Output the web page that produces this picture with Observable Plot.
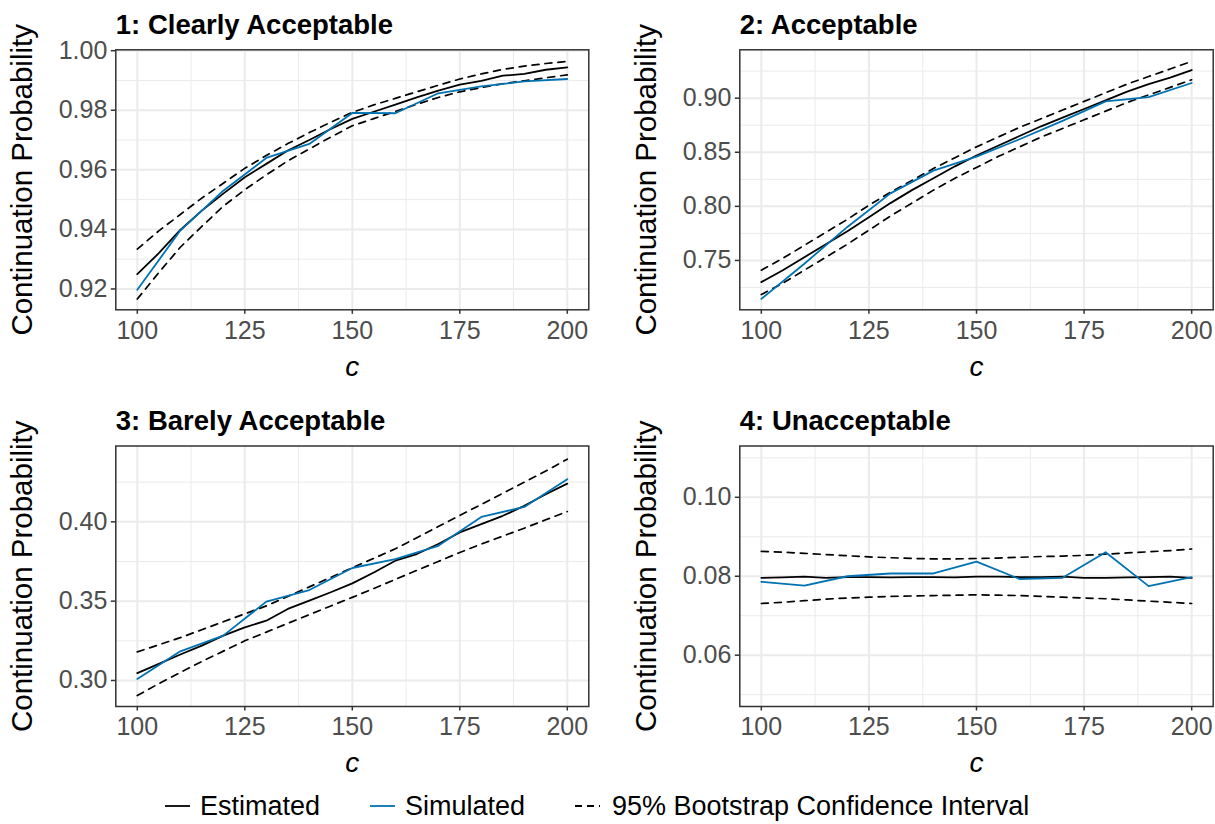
<!DOCTYPE html>
<html><head><meta charset="utf-8">
<script src="https://cdn.jsdelivr.net/npm/d3@7"></script>
<script src="https://cdn.jsdelivr.net/npm/@observablehq/plot@0.6"></script>
<style>
body{margin:0;background:#fff;font-family:"Liberation Sans",Arial,Helvetica,sans-serif;}
#wrap{position:relative;width:1215px;height:824px;overflow:hidden;background:#fff;}
.panel{position:absolute;}
.leg{position:absolute;font-size:27px;line-height:27px;color:#000;white-space:nowrap;}
.key{position:absolute;}
</style></head><body><div id="wrap"></div>
<script>
// x values
const cFine = [100,105,110,115,120,125,130,135,140,145,150,155,160,165,170,175,180,185,190,195,200];
const cSim = [100,110,120,130,140,150,160,170,180,190,200];
const xTicks = [100,125,150,175,200];
const xMinor = [112.5,137.5,162.5,187.5];

const titles = ["1: Clearly Acceptable","2: Acceptable","3: Barely Acceptable","4: Unacceptable"];
const yLabel = "Continuation Probability";
const xLabel = "c";
const legendLabels = ["Estimated","Simulated","95% Bootstrap Confidence Interval"];

// Panel 1
const est1 = [0.925,0.932,0.9398,0.9463,0.952,0.9575,0.962,0.9665,0.970,0.9737,0.9771,0.9795,0.9819,0.9843,0.9866,0.9886,0.9899,0.9916,0.9922,0.9936,0.9944];
const hi1 = [0.9334,0.9395,0.945,0.9505,0.9555,0.9605,0.9648,0.9688,0.9725,0.976,0.9793,0.9818,0.984,0.9862,0.9884,0.9905,0.9922,0.9937,0.9948,0.9957,0.9964];
const lo1 = [0.9166,0.9255,0.934,0.941,0.9478,0.9533,0.9583,0.963,0.967,0.971,0.9748,0.9772,0.9796,0.982,0.9843,0.9862,0.9876,0.9889,0.9899,0.9909,0.9919];
const sim1 = [0.9197,0.9396,0.953,0.964,0.9687,0.9791,0.979,0.9857,0.988,0.9897,0.9905];
const yTicks1 = [0.92,0.94,0.96,0.98,1.00];
const yMinor1 = [0.93,0.95,0.97,0.99];

// Panel 2
const est2 = [0.730,0.741,0.753,0.765,0.777,0.790,0.803,0.815,0.826,0.837,0.847,0.856,0.865,0.874,0.882,0.890,0.898,0.906,0.913,0.919,0.926];
const hi2 = [0.741,0.752,0.764,0.776,0.788,0.801,0.813,0.824,0.835,0.845,0.855,0.864,0.873,0.881,0.889,0.897,0.905,0.913,0.920,0.927,0.934];
const lo2 = [0.7185,0.729,0.741,0.753,0.765,0.778,0.791,0.803,0.815,0.826,0.836,0.846,0.855,0.864,0.872,0.880,0.888,0.896,0.903,0.910,0.917];
const sim2 = [0.7145,0.747,0.781,0.812,0.833,0.846,0.862,0.879,0.897,0.901,0.914];
const yTicks2 = [0.75,0.80,0.85,0.90];
const yMinor2 = [0.725,0.775,0.825,0.875,0.925];

// Panel 3
const est3 = [0.3046,0.3105,0.3164,0.322,0.3283,0.3335,0.3377,0.3451,0.3503,0.3556,0.3612,0.3681,0.3755,0.3797,0.386,0.3933,0.3985,0.4038,0.4101,0.4174,0.4241];
const hi3 = [0.318,0.3225,0.327,0.332,0.337,0.342,0.347,0.353,0.359,0.365,0.371,0.377,0.383,0.390,0.397,0.404,0.411,0.418,0.425,0.432,0.4395];
const lo3 = [0.2905,0.298,0.305,0.312,0.3185,0.325,0.3305,0.336,0.3415,0.347,0.3524,0.358,0.3637,0.3694,0.375,0.3807,0.386,0.391,0.396,0.4013,0.4065];
const sim3 = [0.301,0.3184,0.3283,0.3497,0.357,0.3709,0.3765,0.3849,0.4031,0.4094,0.4268];
const yTicks3 = [0.30,0.35,0.40];
const yMinor3 = [0.325,0.375,0.425];

// Panel 4
const est4 = [0.0796,0.0797,0.0799,0.0796,0.0798,0.0798,0.0797,0.0798,0.0798,0.0797,0.0799,0.0799,0.0798,0.0798,0.0799,0.0796,0.0796,0.0797,0.0798,0.0799,0.0796];
const hi4 = [0.0863,0.0861,0.0858,0.0855,0.0852,0.0849,0.0847,0.0845,0.0844,0.0844,0.0845,0.0846,0.0848,0.0850,0.0851,0.0853,0.0856,0.0859,0.0862,0.0865,0.0869];
const lo4 = [0.0731,0.0734,0.0738,0.0742,0.0745,0.0747,0.0749,0.0750,0.0751,0.0752,0.0753,0.0752,0.0751,0.0749,0.0747,0.0745,0.0743,0.0740,0.0737,0.0734,0.0731];
const sim4 = [0.0786,0.0776,0.080,0.0807,0.0807,0.0837,0.0793,0.0796,0.0861,0.0775,0.0798];
const yTicks4 = [0.06,0.08,0.10];
const yMinor4 = [0.05,0.07,0.09,0.11];

const BLUE = "#0072B2";
const FONT = "'Liberation Sans', Arial, Helvetica, sans-serif";
const wrap = document.getElementById("wrap");

function panel(o) {
  const fine = cFine.map((c, i) => ({c, est: o.est[i], lo: o.lo[i], hi: o.hi[i]}));
  const simD = cSim.map((c, i) => ({c, v: o.sim[i]}));
  const p = Plot.plot({
    width: o.width, height: o.height,
    marginLeft: o.ml, marginRight: o.mr, marginTop: o.mt, marginBottom: o.mb,
    style: {fontFamily: FONT, background: "transparent", overflow: "visible"},
    x: {domain: [95, 205]},
    y: {domain: o.yDomain},
    marks: [
      Plot.ruleX(xMinor, {stroke: "#EBEBEB", strokeWidth: 1}),
      Plot.ruleY(o.yMinor, {stroke: "#EBEBEB", strokeWidth: 1}),
      Plot.ruleX(xTicks, {stroke: "#EBEBEB", strokeWidth: 2}),
      Plot.ruleY(o.yTicks, {stroke: "#EBEBEB", strokeWidth: 2}),
      Plot.line(fine, {x: "c", y: "lo", stroke: "black", strokeWidth: 1.7, strokeDasharray: "7,6"}),
      Plot.line(fine, {x: "c", y: "hi", stroke: "black", strokeWidth: 1.7, strokeDasharray: "7,6"}),
      Plot.line(fine, {x: "c", y: "est", stroke: "black", strokeWidth: 1.8}),
      Plot.line(simD, {x: "c", y: "v", stroke: BLUE, strokeWidth: 1.8}),
      Plot.frame({stroke: "#333333", strokeWidth: 1.5}),
      Plot.axisX(xTicks, {tickSize: 4.5, tickPadding: 6.5, fontSize: 25, stroke: "#333333", fill: "#4D4D4D", strokeWidth: 1.5, label: null}),
      Plot.axisY(o.yTicks, {tickSize: 4.5, tickPadding: 4, fontSize: 25, stroke: "#333333", fill: "#4D4D4D", strokeWidth: 1.5, tickFormat: d3.format(".2f"), label: null}),
      Plot.text([o.title], {text: d => d, frameAnchor: "top-left", textAnchor: "start", lineAnchor: "bottom", dy: -16, fontSize: 27.5, fontWeight: "bold", fill: "black"}),
      Plot.text([xLabel], {text: d => d, frameAnchor: "bottom", textAnchor: "middle", lineAnchor: "bottom", dy: o.cdy, fontSize: 28, fontStyle: "italic", fill: "black"}),
      Plot.text([yLabel], {text: d => d, frameAnchor: "left", textAnchor: "middle", lineAnchor: "middle", rotate: -90, dx: -93, fontSize: 29.5, fill: "black"})
    ]
  });
  p.classList.add("panel");
  p.style.left = o.left + "px";
  p.style.top = o.top + "px";
  wrap.appendChild(p);
}

panel({title: titles[0], est: est1, lo: lo1, hi: hi1, sim: sim1, yTicks: yTicks1, yMinor: yMinor1, yDomain: [0.913, 1.0003],
  left: 0, top: 0, width: 607, height: 400, ml: 115.3, mr: 18.7, mt: 49.3, mb: 90.7, cdy: 66});
panel({title: titles[1], est: est2, lo: lo2, hi: hi2, sim: sim2, yTicks: yTicks2, yMinor: yMinor2, yDomain: [0.7044, 0.9447],
  left: 607, top: 0, width: 608, height: 400, ml: 132.3, mr: 2.3, mt: 49.3, mb: 90.7, cdy: 66});
panel({title: titles[2], est: est3, lo: lo3, hi: hi3, sim: sim3, yTicks: yTicks3, yMinor: yMinor3, yDomain: [0.2836, 0.4478],
  left: 0, top: 400, width: 607, height: 400, ml: 115.3, mr: 18.7, mt: 45.5, mb: 94, cdy: 65});
panel({title: titles[3], est: est4, lo: lo4, hi: hi4, sim: sim4, yTicks: yTicks4, yMinor: yMinor4, yDomain: [0.047, 0.113],
  left: 607, top: 400, width: 608, height: 400, ml: 132.3, mr: 2.3, mt: 45.5, mb: 94, cdy: 65});

// Legend
const legendKeys = [
  {x: 165, text: 200, stroke: "black", dash: null},
  {x: 370, text: 405, stroke: BLUE, dash: null},
  {x: 575, text: 612, stroke: "black", dash: "7,5"}
];
const NS = "http://www.w3.org/2000/svg";
legendKeys.forEach((k, i) => {
  const s = document.createElementNS(NS, "svg");
  s.setAttribute("class", "key");
  s.setAttribute("width", 26); s.setAttribute("height", 10);
  s.style.left = k.x + "px"; s.style.top = "801px";
  const l = document.createElementNS(NS, "line");
  l.setAttribute("x1", 0); l.setAttribute("x2", 25); l.setAttribute("y1", 5); l.setAttribute("y2", 5);
  l.setAttribute("stroke", k.stroke); l.setAttribute("stroke-width", 1.8);
  if (k.dash) l.setAttribute("stroke-dasharray", k.dash);
  s.appendChild(l);
  wrap.appendChild(s);
  const t = document.createElement("div");
  t.className = "leg";
  t.style.left = k.text + "px"; t.style.top = "793px";
  t.textContent = legendLabels[i];
  wrap.appendChild(t);
});
</script></body></html>
